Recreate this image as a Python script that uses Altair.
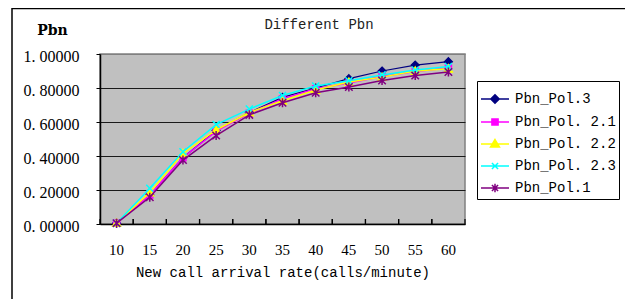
import altair as alt
import pandas as pd

# ---- data ----
x_rates = [10, 15, 20, 25, 30, 35, 40, 45, 50, 55, 60]
series_names = ["Pbn_Pol.3", "Pbn_Pol. 2.1", "Pbn_Pol. 2.2", "Pbn_Pol. 2.3", "Pbn_Pol.1"]
pol3 = [0.005, 0.170, 0.390, 0.550, 0.655, 0.745, 0.800, 0.855, 0.900, 0.935, 0.955]
pol21 = [0.005, 0.170, 0.390, 0.545, 0.652, 0.736, 0.796, 0.830, 0.867, 0.897, 0.917]
pol22 = [0.005, 0.185, 0.415, 0.553, 0.656, 0.725, 0.788, 0.835, 0.864, 0.900, 0.913]
pol23 = [0.005, 0.210, 0.425, 0.585, 0.676, 0.756, 0.812, 0.842, 0.877, 0.906, 0.926]
pol1 = [0.005, 0.157, 0.376, 0.520, 0.642, 0.713, 0.772, 0.806, 0.844, 0.873, 0.894]
all_values = [pol3, pol21, pol22, pol23, pol1]
y_ticks = [0, 0.2, 0.4, 0.6, 0.8, 1.0]
chart_title = "Different Pbn"

colors = ["#000080", "#FF00FF", "#FFFF00", "#00FFFF", "#800080"]
line_widths = [1.2, 1.5, 1.5, 1.5, 1.5]
plot_shapes = [
    "M0,-1L1,0L0,1L-1,0Z",
    "M-1,-1L1,-1L1,1L-1,1Z",
    "M0,-1L1,0.8L-1,0.8Z",
    "M-1,-1L1,1M-1,1L1,-1",
    "M-1,-1L1,1M-1,1L1,-1M0,-1.2L0,1.2",
]
plot_filled = [True, True, True, False, False]
plot_sizes = [64, 40, 70, 50, 56]
legend_shapes = [
    "M-1,0L1,0M0,-0.3L0.3,0L0,0.3L-0.3,0Z",
    "M-1,0L1,0M-0.22,-0.22L0.22,-0.22L0.22,0.22L-0.22,0.22Z",
    "M-1,0L1,0M0,-0.32L0.32,0.22L-0.32,0.22Z",
    "M-1,0L1,0M-0.22,-0.22L0.22,0.22M-0.22,0.22L0.22,-0.22",
    "M-1,0L1,0M-0.22,-0.22L0.22,0.22M-0.22,0.22L0.22,-0.22M0,-0.3L0,0.3",
]

rows = []
for name, vals in zip(series_names, all_values):
    for r, v in zip(x_rates, vals):
        rows.append({"rate": r, "value": v, "series": name})
df = pd.DataFrame(rows)

x_scale = alt.Scale(type="band", domain=x_rates, paddingInner=0, paddingOuter=0)
x_axis = alt.Axis(
    title="New call arrival rate(calls/minute)", labelAngle=0, ticks=False,
    domainColor="black", domainWidth=1.5, grid=False,
    labelFont="Liberation Serif", labelFontSize=15, labelColor="black", labelPadding=18,
    titleFont="Liberation Mono", titleFontSize=14, titleFontWeight="normal",
    titleColor="black", titleY=48, titleBaseline="middle",
)
y_axis = alt.Axis(
    title="Pbn", values=y_ticks,
    labelExpr="replace(format(datum.value, '.5f'), '.', '. ')",
    labelFont="Liberation Serif", labelFontSize=16, labelColor="black",
    labelPadding=17, labelOffset=2, tickSize=4, tickColor="black",
    domainColor="black", domainWidth=1.5,
    gridColor={"condition": {"test": "datum.value >= 1", "value": "#808080"}, "value": "#1a1a1a"},
    gridWidth=1.2,
    titleAngle=0, titleX=-48, titleY=-24, titleAlign="center", titleBaseline="middle",
    titleFont="DejaVu Serif", titleFontSize=14, titleFontWeight="bold", titleColor="black",
)
X = alt.X("rate:O", scale=x_scale, axis=x_axis)
Y = alt.Y("value:Q", scale=alt.Scale(domain=[0, 1], nice=False), axis=y_axis)

color_scale = alt.Scale(domain=series_names, range=colors)

# inner x ticks at band boundaries
tick_df = pd.DataFrame({"rate": x_rates})
ticks0 = alt.Chart(tick_df).mark_rule(color="black", strokeWidth=1.2).encode(
    x=alt.X("rate:O", scale=x_scale, axis=x_axis, bandPosition=0),
    y=alt.value(165), y2=alt.value(170),
)
ticks1 = alt.Chart(tick_df).mark_rule(color="black", strokeWidth=1.2).encode(
    x=alt.X("rate:O", scale=x_scale, axis=x_axis, bandPosition=1),
    y=alt.value(165), y2=alt.value(170),
)

series_layers = []
for name, col, lw, shp, fl, sz in zip(series_names, colors, line_widths, plot_shapes, plot_filled, plot_sizes):
    sub = alt.Chart(df).transform_filter(alt.datum.series == name)
    series_layers.append(sub.mark_line(color=col, strokeWidth=lw).encode(x=X, y=Y))
    if fl:
        pts = sub.mark_point(shape=shp, filled=True, size=sz, fill=col, stroke=col,
                             strokeWidth=1.2, opacity=1)
    else:
        pts = sub.mark_point(shape=shp, filled=False, size=sz, stroke=col,
                             strokeWidth=1.5, opacity=1)
    series_layers.append(pts.encode(x=X, y=Y))

legend = alt.Legend(
    orient="none", legendX=377, legendY=27, title=None,
    labelFont="Liberation Mono", labelFontSize=14, labelColor="black", labelOffset=5,
    symbolSize=784, symbolStrokeWidth=1.5,
    strokeColor="black", fillColor="white", padding=3, rowPadding=0,
)
legend_layer = alt.Chart(df).transform_filter("false").mark_point(filled=True, opacity=1).encode(
    x=X, y=Y,
    fill=alt.Fill("series:N", scale=color_scale, legend=legend),
    stroke=alt.Stroke("series:N", scale=color_scale, legend=legend),
    shape=alt.Shape("series:N", scale=alt.Scale(domain=series_names, range=legend_shapes), legend=legend),
)

border = alt.Chart(pd.DataFrame({"k": [0]})).mark_rect(
    filled=False, stroke="black", strokeWidth=1.5
).encode(x=alt.value(-88), x2=alt.value(526), y=alt.value(-45.5), y2=alt.value(270))

title_layer = alt.Chart(pd.DataFrame({"t": [chart_title]})).mark_text(
    font="Liberation Mono", fontSize=14, color="#222", align="center", baseline="middle"
).encode(text="t:N", x=alt.value(219), y=alt.value(-29))

chart = alt.layer(border, title_layer, ticks0, ticks1, *series_layers, legend_layer).properties(
    width=365, height=170,
    autosize=alt.AutoSizeParams(type="none"),
    padding={"left": 92, "top": 46, "right": 160, "bottom": 75},
    background="white",
).configure_view(fill="#C0C0C0", stroke="#808080", strokeWidth=1.5)

chart.save("out.html", embed_options={"renderer": "svg", "actions": False})
